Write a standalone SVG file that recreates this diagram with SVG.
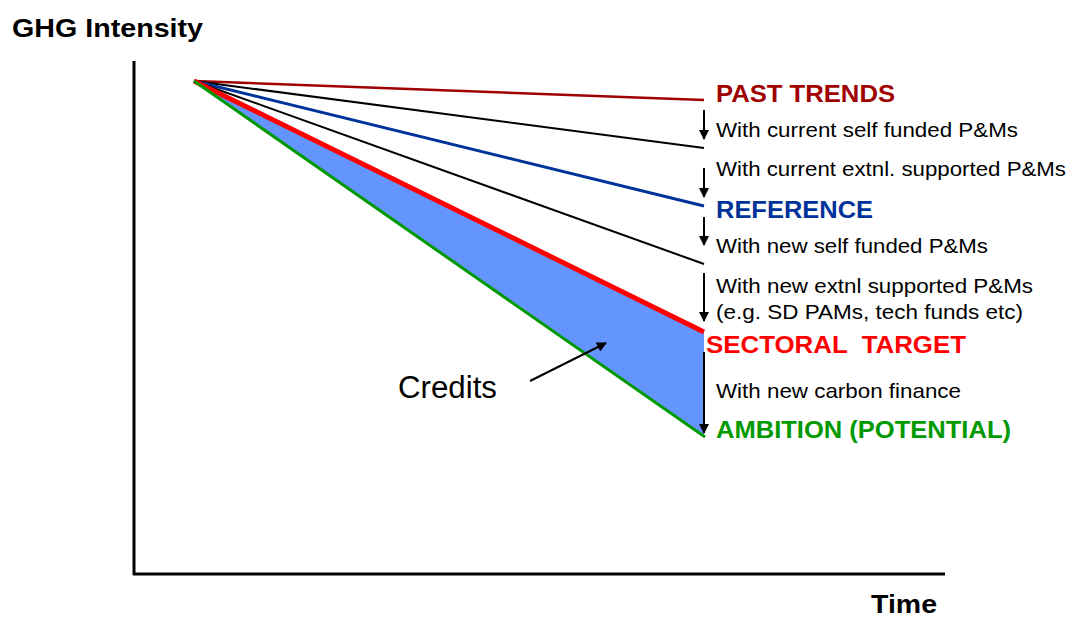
<svg xmlns="http://www.w3.org/2000/svg" width="1070" height="619" viewBox="0 0 1070 619">
<style>
  .t{font-family:"Liberation Sans",Arial,sans-serif;font-size:21px;fill:#000}
  .b{font-family:"Liberation Sans",Arial,sans-serif;font-weight:bold}
  .ax{stroke:#000;stroke-width:3;fill:none}
  .arr{stroke:#000;stroke-width:2;fill:none;marker-end:url(#ah)}
</style>
<defs>
  <marker id="ah" viewBox="0 0 10 10" refX="9" refY="5" markerWidth="5.5" markerHeight="5" orient="auto" markerUnits="strokeWidth">
    <path d="M0,0 L10,5 L0,10 z" fill="#000"/>
  </marker>
</defs>
<rect width="1070" height="619" fill="#fff"/>

<g id="axes">
  <line class="ax" x1="134" y1="61" x2="134" y2="575"/>
  <line class="ax" x1="133" y1="574" x2="945" y2="574"/>
</g>
<text id="y-label" class="b" x="12" y="37" font-size="25" textLength="191" lengthAdjust="spacingAndGlyphs">GHG Intensity</text>
<text id="x-label" class="b" x="871" y="613" font-size="25" textLength="66" lengthAdjust="spacingAndGlyphs">Time</text>

<g id="credits-area">
  <polygon points="194,81 704,332 704,436" fill="#6495FF"/>
</g>

<g id="trend-lines">
  <line x1="194" y1="81" x2="704" y2="100" stroke="#A00000" stroke-width="2.5"/>
  <line x1="194" y1="81" x2="704" y2="148" stroke="#000" stroke-width="2"/>
  <line x1="194" y1="81" x2="704" y2="206" stroke="#003399" stroke-width="3"/>
  <line x1="194" y1="81" x2="704" y2="264" stroke="#000" stroke-width="2"/>
  <line x1="194" y1="81" x2="704" y2="332" stroke="#FF0000" stroke-width="5"/>
  <line x1="194" y1="81" x2="705" y2="437" stroke="#009900" stroke-width="3"/>
</g>

<g id="connectors">
  <line class="arr" x1="704" y1="110" x2="704" y2="139"/>
  <line class="arr" x1="704" y1="168" x2="704" y2="197"/>
  <line class="arr" x1="704" y1="217" x2="704" y2="245"/>
  <line class="arr" x1="704" y1="273" x2="704" y2="321"/>
  <line class="arr" x1="704" y1="352" x2="704" y2="433"/>
  <line class="arr" x1="530" y1="381" x2="606" y2="343"/>
</g>

<g id="past-trends"><text class="b" x="716" y="102" font-size="24" fill="#A00000" textLength="179" lengthAdjust="spacingAndGlyphs">PAST TRENDS</text></g>
<g id="current-self"><text class="t" x="716" y="137" textLength="302" lengthAdjust="spacingAndGlyphs">With current self funded P&amp;Ms</text></g>
<g id="current-extnl"><text class="t" x="716" y="176" textLength="350" lengthAdjust="spacingAndGlyphs">With current extnl. supported P&amp;Ms</text></g>
<g id="reference"><text class="b" x="716" y="218" font-size="24" fill="#003399" textLength="157" lengthAdjust="spacingAndGlyphs">REFERENCE</text></g>
<g id="new-self"><text class="t" x="716" y="253" textLength="272" lengthAdjust="spacingAndGlyphs">With new self funded P&amp;Ms</text></g>
<g id="new-extnl">
  <text class="t" x="716" y="293" textLength="317" lengthAdjust="spacingAndGlyphs">With new extnl supported P&amp;Ms</text>
  <text class="t" x="716" y="319" textLength="307" lengthAdjust="spacingAndGlyphs">(e.g. SD PAMs, tech funds etc)</text>
</g>
<g id="sectoral-target"><text class="b" x="706" y="353" font-size="24" fill="#FF0000" textLength="260" lengthAdjust="spacingAndGlyphs" xml:space="preserve">SECTORAL  TARGET</text></g>
<g id="carbon-finance"><text class="t" x="716" y="398" textLength="245" lengthAdjust="spacingAndGlyphs">With new carbon finance</text></g>
<g id="ambition"><text class="b" x="716" y="438" font-size="24" fill="#009900" textLength="295" lengthAdjust="spacingAndGlyphs">AMBITION (POTENTIAL)</text></g>
<g id="credits"><text class="t" x="398" y="398" style="font-size:31px" textLength="99" lengthAdjust="spacingAndGlyphs">Credits</text></g>
</svg>
